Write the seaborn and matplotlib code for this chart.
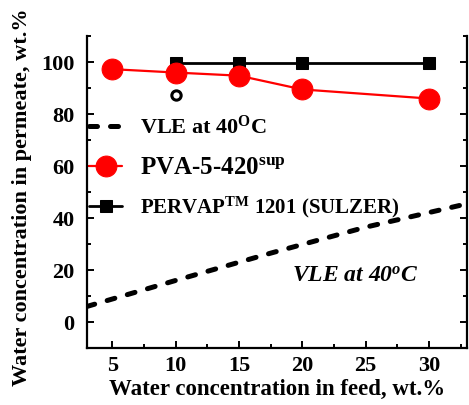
import numpy as np
import pandas as pd
import matplotlib
matplotlib.use("Agg")
import matplotlib.pyplot as plt
import seaborn as sns
from matplotlib.ticker import MultipleLocator

# data
vle_feed = [3, 10, 17.5, 25, 33]
vle_perm = [6.0, 16.0, 26.5, 36.5, 45.5]

pva_feed = [5, 10, 15, 20, 30]
pva_perm = [97.3, 96.0, 94.8, 89.5, 86.0]

pervap_feed = [10, 15, 20, 30]
pervap_perm = [99.8, 99.8, 99.8, 99.8]

open_feed = [10]
open_perm = [87.2]

sns.set_theme(style="ticks")
plt.rcParams["font.family"] = ["Liberation Serif", "DejaVu Serif"]
plt.rcParams["font.weight"] = "bold"
plt.rcParams["text.color"] = "black"
plt.rcParams["axes.labelcolor"] = "black"
plt.rcParams["mathtext.fontset"] = "custom"
plt.rcParams["mathtext.rm"] = "Liberation Serif:bold"
plt.rcParams["mathtext.it"] = "Liberation Serif:bold:italic"
plt.rcParams["mathtext.bf"] = "Liberation Serif:bold"

fig = plt.figure(figsize=(4.69, 4.05), dpi=100)
ax = fig.add_axes([0.1855, 0.1407, 0.810, 0.770])

vle_df = pd.DataFrame({"x": vle_feed, "y": vle_perm})
pva_df = pd.DataFrame({"x": pva_feed, "y": pva_perm})
perv_df = pd.DataFrame({"x": pervap_feed, "y": pervap_perm})

sns.lineplot(data=vle_df, x="x", y="y", ax=ax, color="black", lw=3.6,
             label="_nolegend_")
vle_line = ax.lines[-1]
vle_line.set_dashes([1.6, 2.6])
vle_line.set_dash_capstyle("round")

sns.lineplot(data=perv_df, x="x", y="y", ax=ax, color="black", lw=2.0,
             marker="s", markersize=9, markeredgecolor="black",
             label="_nolegend_")
perv_line = ax.lines[-1]

sns.lineplot(data=pva_df, x="x", y="y", ax=ax, color="#ff0000", lw=1.6,
             marker="o", markersize=15, markeredgecolor="#ff0000",
             label="_nolegend_")
pva_line = ax.lines[-1]

sns.scatterplot(x=open_feed, y=open_perm, ax=ax, s=45, facecolor="white",
                edgecolor="black", linewidth=2.2, zorder=5)

ax.text(19.2, 15.5, r"VLE at 40$^{o}$C", fontsize=17, style="italic",
        fontweight="bold", color="black")

leg = ax.legend([vle_line, pva_line, perv_line],
                [r"VLE at 40$^{\mathrm{O}}$C", r"PVA-5-420$^{\mathrm{sup}}$",
                 r"PERVAP$^{\mathrm{TM}}$ 1201 (SULZER)"],
                loc="upper left", bbox_to_anchor=(0.005, 0.745), frameon=False,
                fontsize=16, handlelength=1.5, handletextpad=0.8,
                borderpad=0, borderaxespad=0, labelspacing=0.75)
sizes = [16, 18, 15]
for t, s in zip(leg.get_texts(), sizes):
    t.set_fontsize(s)
    t.set_fontweight("bold")
    t.set_color("black")

ax.set_xlim(3, 33)
ax.set_ylim(-10, 110)
ax.xaxis.set_major_locator(MultipleLocator(5))
ax.xaxis.set_minor_locator(MultipleLocator(2.5))
ax.set_yticks([0, 20, 40, 60, 80, 100])
ax.yaxis.set_minor_locator(MultipleLocator(10))

ax.spines["top"].set_visible(False)
for sp in ["left", "right", "bottom"]:
    ax.spines[sp].set_linewidth(1.6)
    ax.spines[sp].set_color("black")

ax.tick_params(which="both", direction="in", right=True, top=False,
               width=1.4, colors="black")
ax.tick_params(which="major", length=5, labelsize=16)
ax.tick_params(axis="x", which="major", pad=6)
ax.tick_params(axis="y", which="major", pad=9)
ax.tick_params(which="minor", length=3)
for lab in ax.get_xticklabels() + ax.get_yticklabels():
    lab.set_fontweight("bold")

ax.set_xlabel("Water concentration in feed, wt.%", fontsize=16.5,
              fontweight="bold", labelpad=2)
ax.set_ylabel("Water concentration in permeate, wt.%", fontsize=16,
              fontweight="bold")
ax.yaxis.set_label_coords(-0.145, 0.484)

fig.savefig("out.png", dpi=100)
